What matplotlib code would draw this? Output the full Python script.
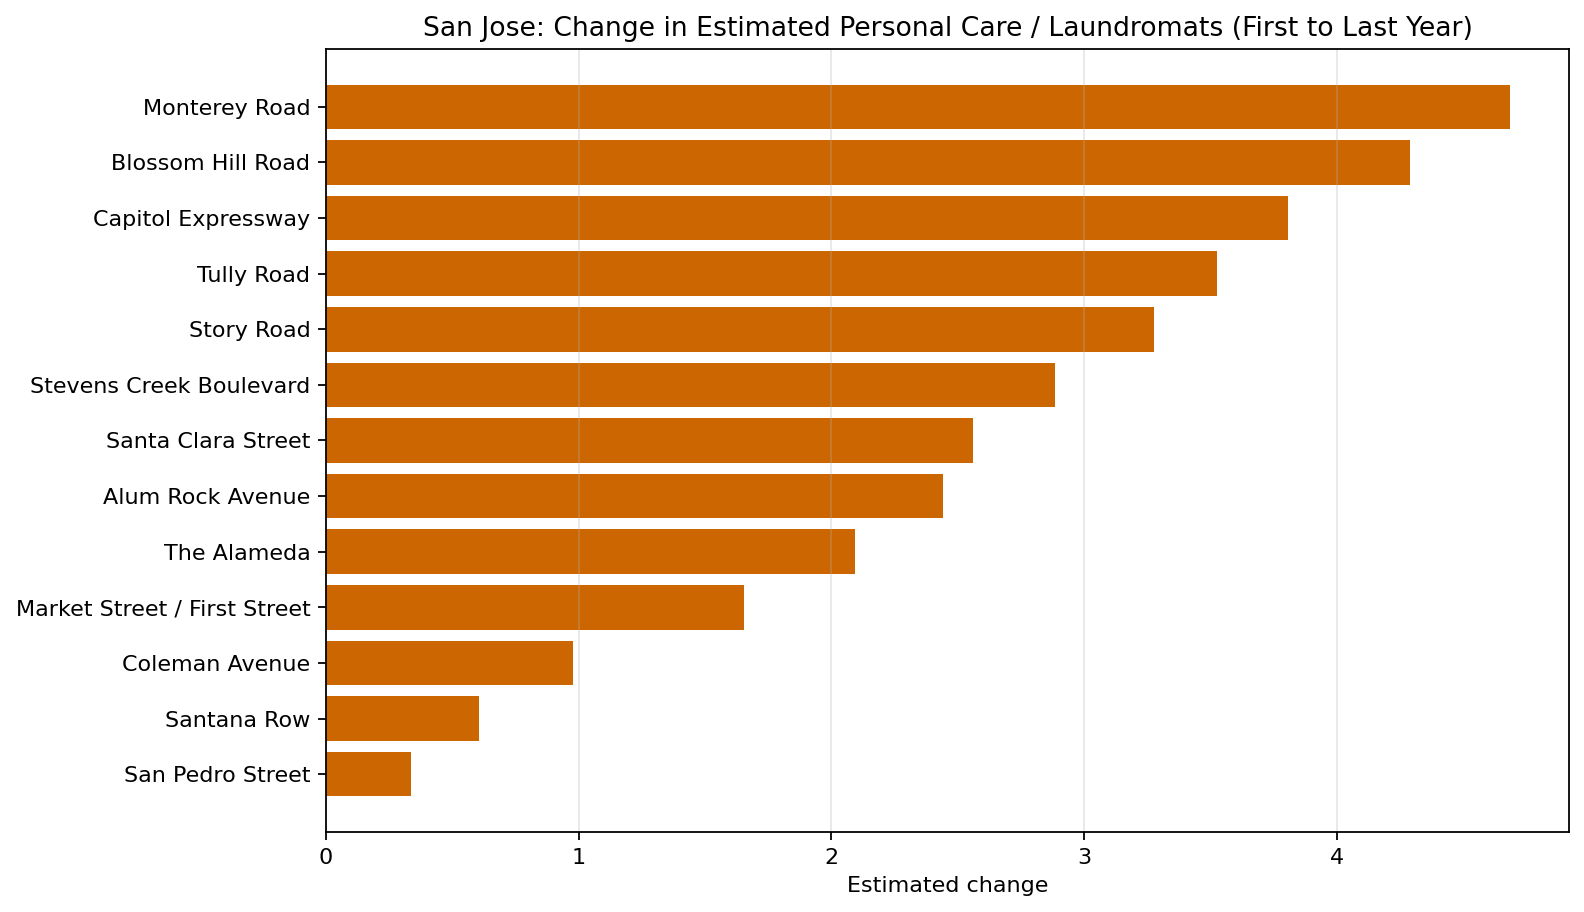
import matplotlib
matplotlib.use("Agg")
import matplotlib.pyplot as plt

corridors = ["Monterey Road", "Blossom Hill Road", "Capitol Expressway", "Tully Road",
             "Story Road", "Stevens Creek Boulevard", "Santa Clara Street", "Alum Rock Avenue",
             "The Alameda", "Market Street / First Street", "Coleman Avenue", "Santana Row",
             "San Pedro Street"]
changes = [4.685, 4.289, 3.808, 3.528, 3.276, 2.886, 2.56, 2.442, 2.093, 1.653, 0.979, 0.606, 0.337]

fig, ax = plt.subplots(figsize=(9.9, 5.7), dpi=160)
ax.barh(corridors[::-1], changes[::-1], color="#CC6600")
ax.grid(axis="x", alpha=0.3)
ax.set_xlabel("Estimated change")
ax.set_title("San Jose: Change in Estimated Personal Care / Laundromats (First to Last Year)")
fig.subplots_adjust(left=0.2058, right=0.9905, top=0.9463, bottom=0.0877)
fig.savefig("out.png", dpi=160)
